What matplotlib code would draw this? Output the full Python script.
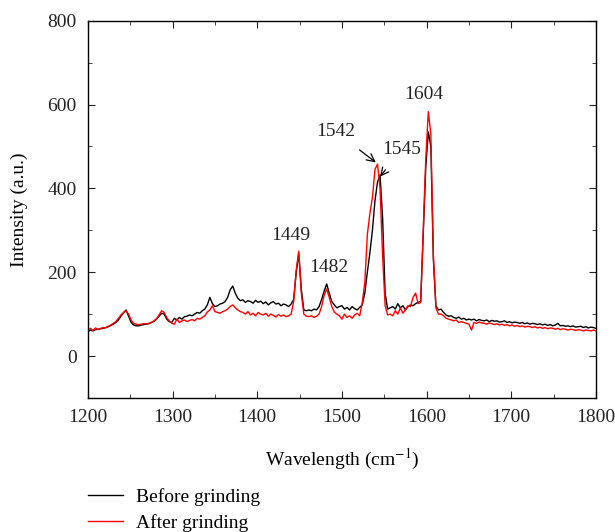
import numpy as np
import matplotlib
matplotlib.use("Agg")
import matplotlib.pyplot as plt

# ---------------------------------------
# Raman spectra
# ---------------------------------------
# sampling grid: 1200 .. 1800 cm-1, every 3 cm-1

wavenumber = np.arange(1200, 1801, 3)

before = [
    # 1200-1239
    58, 62, 60, 63, 64, 65, 66, 68, 70, 73, 76, 80, 86, 95,
    # 1242-1257
    103, 110, 95, 80, 74, 72,
    # 1260-1281
    72, 74, 75, 76, 77, 80, 83, 88,
    # 1284-1299
    95, 102, 100, 88, 82, 80,
    # 1302-1338
    90, 86, 92, 88, 94, 95, 98, 96, 100, 104, 102, 108, 112,
    # 1341-1380
    122, 140, 125, 118, 120, 124, 126, 130, 140, 158, 167, 150, 138, 132,
    # 1383-1440
    134, 128, 132, 130, 126, 133, 128, 131, 125, 129, 122, 127, 130, 124,
    126, 120, 124, 122, 118, 124,
    # 1443-1458
    135, 200, 245, 160, 110, 108,
    # 1461-1476
    110, 108, 112, 110, 118, 135,
    # 1479-1497
    155, 172, 150, 130, 122, 115, 118,
    # 1500-1521
    120, 112, 116, 110, 118, 113, 110, 116,
    # 1524-1557
    122, 150, 200, 246, 300, 370, 415, 432, 330, 150, 112, 115,
    # 1560-1593
    118, 112, 125, 115, 120, 110, 118, 122, 120, 125, 128, 130,
    # 1596-1614
    290, 450, 535, 500, 230, 120, 110,
    # 1617-1650
    112, 104, 98, 95, 96, 92, 90, 93, 88, 90, 86, 88,
    # 1653-1800
    86, 88, 84, 87, 85, 84, 86, 82, 85, 83, 84, 81, 82, 84, 80, 82, 79,
    81, 80, 78, 80, 77, 79, 76, 78, 77, 75, 77, 74, 76, 73, 75, 72, 74,
    78, 72, 73, 71, 72, 70, 72, 69, 70, 71, 68, 70, 67, 69, 68, 66,
]

after = [
    # 1200-1239
    63, 66, 61, 67, 63, 66, 68, 67, 71, 74, 78, 82, 90, 98,
    # 1242-1257
    104, 108, 100, 86, 78, 76,
    # 1260-1281
    75, 76, 77, 77, 78, 80, 84, 89,
    # 1284-1299
    98, 108, 104, 92, 84, 78,
    # 1302-1338
    76, 88, 80, 84, 86, 82, 85, 87, 84, 90, 88, 92, 96,
    # 1341-1380
    105, 110, 120, 106, 104, 102, 106, 108, 112, 118, 122, 115, 110, 106,
    # 1383-1440
    104, 100, 106, 98, 102, 96, 104, 100, 98, 102, 95, 100, 97, 93,
    99, 95, 98, 94, 96, 100,
    # 1443-1458
    130, 205, 250, 150, 100, 95,
    # 1461-1476
    94, 96, 92, 95, 100, 118,
    # 1479-1497
    145, 160, 140, 118, 105, 100, 96,
    # 1500-1521
    88, 100, 92, 96, 90, 98, 102, 96,
    # 1524-1557
    128, 175, 290, 340, 378, 445, 458, 400, 240, 120, 98, 100,
    # 1560-1593
    96, 108, 100, 115, 102, 110, 120, 118, 140, 150, 125, 128,
    # 1596-1614
    300, 470, 583, 530, 240, 115, 100,
    # 1617-1650
    100, 96, 90, 88, 86, 84, 86, 80, 82, 80, 78, 76,
    # 1653-1800
    62, 80, 78, 81, 79, 78, 76, 79, 77, 75, 77, 74, 76, 73, 75, 72, 74,
    71, 73, 70, 72, 69, 71, 70, 68, 70, 67, 69, 66, 68, 65, 67, 66, 64,
    66, 63, 65, 64, 62, 64, 63, 61, 63, 62, 60, 62, 61, 60, 62, 60,
]

series_labels = ["Before grinding", "After grinding"]

# ---------------------------------------
# Plot
# ---------------------------------------

plt.rcParams["font.family"] = ["Liberation Serif", "DejaVu Serif"]
plt.rcParams["mathtext.fontset"] = "stix"

FS = 14

fig = plt.figure(figsize=(6.15, 5.32), dpi=100)
ax = fig.add_axes([0.143, 0.252, 0.826, 0.709])

ax.plot(wavenumber, before, color="black", lw=1.0, label=series_labels[0])
ax.plot(wavenumber, after, color="#ff0000", lw=1.0, label=series_labels[1])

ax.set_xlim(1200, 1800)
ax.set_ylim(-100, 800)
ax.set_xticks(np.arange(1200, 1801, 100))
ax.set_xticks(np.arange(1250, 1800, 100), minor=True)
ax.set_yticks(np.arange(0, 801, 200))
ax.set_yticks(np.arange(-100, 800, 200), minor=True)
ax.tick_params(which="both", direction="in", top=True, right=True,
               labelsize=FS, colors="#222222", pad=8)
ax.tick_params(which="major", length=5)
ax.tick_params(which="minor", length=3)
for sp in ax.spines.values():
    sp.set_linewidth(1.0)

ax.set_xlabel("Wavelength (cm$^{-1}$)", fontsize=FS, labelpad=15)
ax.set_ylabel("Intensity (a.u.)", fontsize=FS, labelpad=14)

txt = dict(fontsize=FS, color="#222222", ha="center", va="center")
ax.text(1440, 288, "1449", **txt)
ax.text(1484, 212, "1482", **txt)
ax.text(1597, 625, "1604", **txt)
ax.annotate("1542", xy=(1540, 462), xytext=(1493, 535),
            arrowprops=dict(arrowstyle="->", color="black", lw=0.9,
                            shrinkA=8, shrinkB=0), **txt)
ax.annotate("1545", xy=(1545, 428), xytext=(1570, 492),
            arrowprops=dict(arrowstyle="->", color="black", lw=0.9,
                            shrinkA=8, shrinkB=0), **txt)

fig.legend(loc="upper left", bbox_to_anchor=(0.13, 0.098), frameon=False,
           fontsize=FS, handlelength=1.8, handletextpad=0.7,
           labelspacing=0.45, borderaxespad=0)

fig.savefig("out.png", dpi=100)
plt.close(fig)
